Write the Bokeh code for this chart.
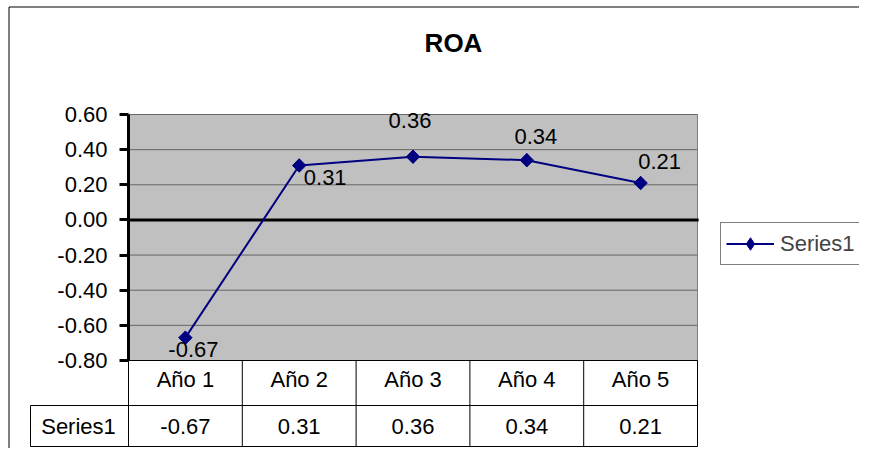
import numpy as np
from bokeh.plotting import figure
from bokeh.models import (ColumnDataSource, LinearAxis, FixedTicker, Range1d,
                          Label, Legend, LegendItem)
from bokeh.embed import file_html
from bokeh.resources import INLINE

# ---------------- data ----------------
categories = ["Año 1", "Año 2", "Año 3", "Año 4", "Año 5"]
series_name = "Series1"
roa_values = [-0.67, 0.31, 0.36, 0.34, 0.21]
y_ticks = [-0.8, -0.6, -0.4, -0.2, 0.0, 0.2, 0.4, 0.6]
y_tick_labels = ["-0.80", "-0.60", "-0.40", "-0.20", "0.00", "0.20", "0.40", "0.60"]
title_text = "ROA"

# ---------------- layout constants (pixels) ----------------
W, H = 859, 448
PL, PR, PT, PB = 128, 697, 114, 360          # plot area edges
NCAT = len(categories)
CW = (PR - PL) / NCAT                          # px per category
YMIN, YMAX = y_ticks[0], y_ticks[-1]
YS = (PB - PT) / (YMAX - YMIN)                 # px per value unit

def X(px):
    return (px - PL) / CW

def Y(px):
    return YMAX - (px - PT) / YS

FONT = "Liberation Sans"
FS = "22px"

p = figure(width=W, height=H, output_backend="svg", toolbar_location=None,
           x_range=Range1d(X(0), X(W)), y_range=Range1d(Y(H), Y(0)),
           x_axis_type=None, y_axis_type=None, min_border=0,
           background_fill_color="white", border_fill_color="white")
p.outline_line_color = None
p.xgrid.visible = False
p.ygrid.visible = False

xs = [i + 0.5 for i in range(NCAT)]

# plot area background
p.quad(left=[0], right=[NCAT], bottom=[YMIN], top=[YMAX],
       fill_color="#C0C0C0", line_color="#808080", line_width=1)

# gridlines from ticks
grid_y = [t for t in y_ticks if t != 0.0]
p.segment(x0=[0] * len(grid_y), x1=[NCAT] * len(grid_y), y0=grid_y, y1=grid_y,
          line_color="#666666", line_width=1)
# zero line
p.segment(x0=[0], x1=[NCAT + 0.01], y0=[0.0], y1=[0.0], line_color="black", line_width=3)

# outer chart border (left / top)
p.segment(x0=[X(8.5), X(8.5)], x1=[X(8.5), X(W)], y0=[Y(6.5), Y(6.5)], y1=[Y(H), Y(6.5)],
          line_color="black", line_width=1)

# ---------------- data table ----------------
ROW1_B, ROW2_B, LBL_L = 405, 446, 30
tbl_x0 = [X(LBL_L), X(LBL_L), 0]
tbl_x1 = [NCAT, NCAT, NCAT]
tbl_y = [Y(ROW1_B), Y(ROW2_B), YMIN]
p.segment(x0=tbl_x0, x1=tbl_x1, y0=tbl_y, y1=tbl_y, line_color="black", line_width=1)
vx = list(range(NCAT + 1))
p.segment(x0=vx, x1=vx, y0=[YMIN] * len(vx), y1=[Y(ROW2_B)] * len(vx),
          line_color="black", line_width=1)
p.segment(x0=[X(LBL_L)], x1=[X(LBL_L)], y0=[Y(ROW1_B)], y1=[Y(ROW2_B)],
          line_color="black", line_width=1)

val_text = [f"{v:.2f}" for v in roa_values]
p.text(x=xs, y=[Y((ROW1_B + ROW2_B) / 2)] * NCAT, text=val_text,
       text_align="center", text_baseline="middle",
       text_font={"value": FONT}, text_font_size=FS, text_color="black")
p.text(x=[X(78)], y=[Y((ROW1_B + ROW2_B) / 2)], text=[series_name],
       text_align="center", text_baseline="middle",
       text_font={"value": FONT}, text_font_size=FS, text_color="black")

# ---------------- axes ----------------
yaxis = LinearAxis(fixed_location=0, bounds=(YMIN, YMAX),
                   ticker=FixedTicker(ticks=y_ticks),
                   major_label_overrides=dict(zip(y_ticks, y_tick_labels)))
yaxis.axis_line_width = 3
yaxis.axis_line_color = "black"
yaxis.major_tick_line_width = 3
yaxis.major_tick_out = 9
yaxis.major_tick_in = 0
yaxis.minor_tick_out = 0
yaxis.minor_tick_in = 0
yaxis.major_label_standoff = 12
yaxis.major_label_text_font = FONT
yaxis.major_label_text_font_size = FS
yaxis.major_label_text_color = "black"
p.add_layout(yaxis, "left")

xaxis = LinearAxis(fixed_location=YMIN, ticker=FixedTicker(ticks=xs),
                   major_label_overrides=dict(zip(xs, categories)))
xaxis.axis_line_color = None
xaxis.major_tick_out = 0
xaxis.major_tick_in = 0
xaxis.minor_tick_out = 0
xaxis.minor_tick_in = 0
xaxis.major_label_standoff = 6
xaxis.major_label_text_font = FONT
xaxis.major_label_text_font_size = FS
xaxis.major_label_text_color = "black"
p.add_layout(xaxis, "below")

# ---------------- series ----------------
label_dx = [8, 26, -3, 9, 19]
label_dy = [12, 12, -36, -24, -22]
src = ColumnDataSource(dict(x=xs, y=roa_values, lbl=val_text, dx=label_dx, dy=label_dy))
line_r = p.line("x", "y", source=src, line_color="#000080", line_width=2)
# diamond markers (used by the legend), covered by slightly larger rotated squares
diamond_r = p.scatter("x", "y", source=src, marker="diamond", size=13,
                      fill_color="#000080", line_color="#000080")
p.scatter("x", "y", source=src, marker="square", angle=np.pi / 4, size=9.5,
          fill_color="#000080", line_color="#000080")
p.text("x", "y", text="lbl", x_offset="dx", y_offset="dy", source=src,
       text_align="center", text_baseline="middle",
       text_font={"value": FONT}, text_font_size=FS, text_color="black")

# title
p.add_layout(Label(x=X(453), y=Y(42), text=title_text, text_align="center",
                   text_baseline="middle", text_font=FONT, text_font_size="26px",
                   text_font_style="bold", text_color="black"))

# legend
legend = Legend(items=[LegendItem(label=series_name, renderers=[line_r, diamond_r])],
                location=(720, H - 265), orientation="vertical",
                padding=5, spacing=0, margin=0, glyph_width=48, glyph_height=31,
                label_height=18, label_width=72, label_standoff=6,
                label_text_font=FONT, label_text_font_size=FS,
                border_line_color="black", border_line_width=1,
                background_fill_color="white", background_fill_alpha=1.0)
p.add_layout(legend, "center")

open("out.html", "w").write(file_html(p, INLINE))
